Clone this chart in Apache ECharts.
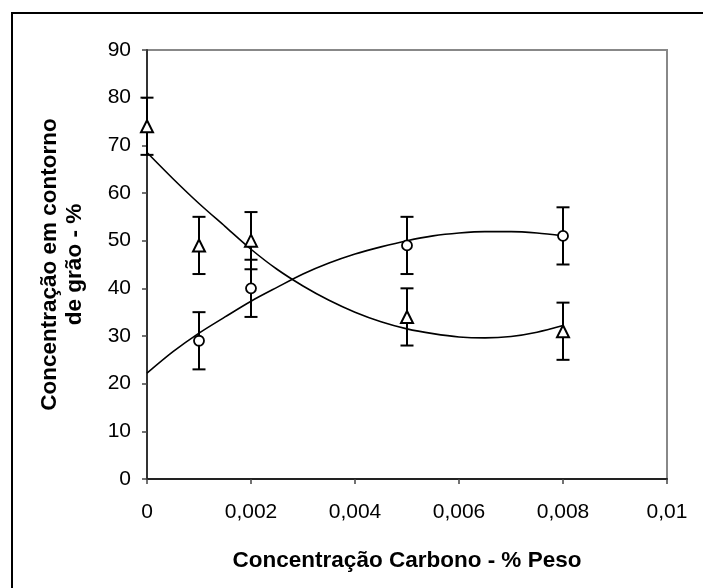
<!DOCTYPE html>
<html>
<head>
<meta charset="utf-8">
<script src="https://cdn.jsdelivr.net/npm/echarts@6/dist/echarts.min.js"></script>
<style>
  html, body { margin: 0; padding: 0; background: #fff; }
  #chart { width: 703px; height: 588px; }
</style>
</head>
<body>
<div id="chart"></div>
<script>
// Measured points (triangles and circles) with their error half-widths
var triX = [0, 0.001, 0.002, 0.005, 0.008];
var triY = [74, 49, 50, 34, 31];
var triErr = [6, 6, 6, 6, 6];

var circX = [0.001, 0.002, 0.005, 0.008];
var circY = [29, 40, 49, 51];
var circErr = [6, 6, 6, 6];

// Trend curves sampled along the carbon axis
var fitX = [0, 0.0005, 0.001, 0.0015, 0.002, 0.0025, 0.003, 0.0035, 0.004,
            0.0045, 0.005, 0.0055, 0.006, 0.0065, 0.007, 0.0075, 0.008];
var triFit = [68.5, 63, 57.8, 53, 48.2, 44, 40.5, 37.5, 35, 33, 31.5, 30.5,
              29.8, 29.6, 29.9, 30.8, 32.2];
var circFit = [22.2, 26.7, 30.6, 34, 37.3, 40.2, 43, 45.3, 47.2, 48.7, 50, 51,
               51.6, 51.9, 51.9, 51.6, 51];

// Axis ticks
var xTicks = [0, 0.002, 0.004, 0.006, 0.008, 0.01];
var yTicks = [0, 10, 20, 30, 40, 50, 60, 70, 80, 90];

var FONT = '"Liberation Sans", Arial, sans-serif';

function zip(xs, ys) {
  return xs.map(function (x, i) { return [x, ys[i]]; });
}
function errData(xs, ys, es) {
  return xs.map(function (x, i) { return [x, ys[i] - es[i], ys[i] + es[i]]; });
}
function renderErr(params, api) {
  var x = api.value(0);
  var lo = api.coord([x, api.value(1)]);
  var hi = api.coord([x, api.value(2)]);
  var cap = 6.5;
  var style = { stroke: '#000', lineWidth: 2, fill: null };
  return {
    type: 'group',
    children: [
      { type: 'line', shape: { x1: lo[0], y1: lo[1], x2: hi[0], y2: hi[1] }, style: style },
      { type: 'line', shape: { x1: hi[0] - cap, y1: hi[1], x2: hi[0] + cap, y2: hi[1] }, style: style },
      { type: 'line', shape: { x1: lo[0] - cap, y1: lo[1], x2: lo[0] + cap, y2: lo[1] }, style: style }
    ]
  };
}

var chart = echarts.init(document.getElementById('chart'), null, { renderer: 'canvas' });

chart.setOption({
  animation: false,
  backgroundColor: '#fff',
  textStyle: { fontFamily: FONT },
  graphic: [{
    type: 'rect',
    shape: { x: 12, y: 13, width: 800, height: 700 },
    style: { fill: null, stroke: '#000', lineWidth: 2 },
    silent: true
  }],
  grid: {
    left: 147, right: 36, top: 50, bottom: 109,
    show: true, borderColor: '#888', borderWidth: 2, backgroundColor: 'transparent'
  },
  xAxis: {
    type: 'value',
    min: xTicks[0], max: xTicks[xTicks.length - 1], interval: 0.002,
    name: 'Concentração Carbono - % Peso',
    nameLocation: 'middle', nameGap: 70,
    nameTextStyle: { fontFamily: FONT, fontSize: 22.5, fontWeight: 'bold', color: '#000' },
    axisLine: { lineStyle: { color: '#222', width: 2 } },
    axisTick: { show: true, length: 5, lineStyle: { color: '#444', width: 1.5 } },
    axisLabel: {
      margin: 23, fontSize: 21, color: '#000', fontFamily: FONT,
      formatter: function (v) { return v === 0 ? '0' : String(+v.toFixed(3)).replace('.', ','); }
    },
    splitLine: { show: false }
  },
  yAxis: {
    type: 'value',
    min: yTicks[0], max: yTicks[yTicks.length - 1], interval: 10,
    name: 'Concentração em contorno\nde grão - %',
    nameLocation: 'middle', nameGap: 60, nameRotate: 90,
    nameTextStyle: { fontFamily: FONT, fontSize: 22.5, fontWeight: 'bold', color: '#000', lineHeight: 25, align: 'center' },
    axisLine: { lineStyle: { color: '#333', width: 2 } },
    axisTick: { show: true, length: 5, lineStyle: { color: '#444', width: 1.5 } },
    axisLabel: { margin: 16, fontSize: 21, color: '#000', fontFamily: FONT },
    splitLine: { show: false }
  },
  series: [
    {
      type: 'line', data: zip(fitX, triFit), smooth: 0.3, showSymbol: false,
      lineStyle: { color: '#000', width: 1.6 }, z: 2
    },
    {
      type: 'line', data: zip(fitX, circFit), smooth: 0.3, showSymbol: false,
      lineStyle: { color: '#000', width: 1.6 }, z: 2
    },
    { type: 'custom', data: errData(triX, triY, triErr), renderItem: renderErr, z: 3 },
    { type: 'custom', data: errData(circX, circY, circErr), renderItem: renderErr, z: 3 },
    {
      type: 'scatter', data: zip(triX, triY), symbol: 'triangle', symbolSize: [12, 12],
      itemStyle: { color: '#fff', borderColor: '#000', borderWidth: 2, opacity: 1 }, z: 4
    },
    {
      type: 'scatter', data: zip(circX, circY), symbol: 'circle', symbolSize: 10,
      itemStyle: { color: '#fff', borderColor: '#000', borderWidth: 1.8, opacity: 1 }, z: 4
    }
  ]
});
</script>
</body>
</html>
